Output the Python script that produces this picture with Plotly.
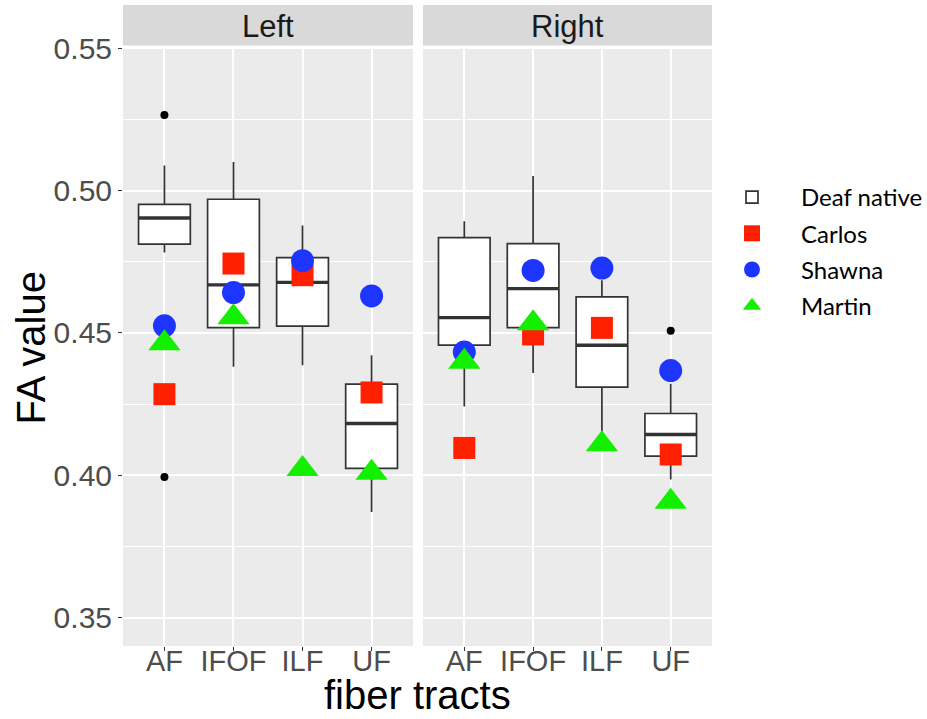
import plotly.graph_objects as go

# ---- data -------------------------------------------------------------
tracts = ["AF", "IFOF", "ILF", "UF"]
sides = ["Left", "Right"]

# box statistics for the Deaf native group, per side (AF, IFOF, ILF, UF)
box_lower = {"Left": [0.4783, 0.4381, 0.4387, 0.3871], "Right": [0.4242, 0.4359, 0.4141, 0.3985]}
box_q1 = {"Left": [0.4812, 0.4519, 0.4524, 0.4024], "Right": [0.4457, 0.4519, 0.4310, 0.4067]}
box_median = {"Left": [0.4904, 0.4669, 0.4678, 0.4182], "Right": [0.4554, 0.4656, 0.4457, 0.4143]}
box_q3 = {"Left": [0.4952, 0.4970, 0.4765, 0.4320], "Right": [0.4835, 0.4814, 0.4627, 0.4217]}
box_upper = {"Left": [0.5089, 0.5101, 0.4878, 0.4422], "Right": [0.4893, 0.5052, 0.4685, 0.4322]}

# outliers of the group: (tract, value)
outliers = {"Left": [("AF", 0.5266), ("AF", 0.3994)], "Right": [("UF", 0.4508)]}

# individual subjects
carlos = {"Left": [0.4285, 0.4744, 0.4703, 0.4291], "Right": [0.4096, 0.4495, 0.4518, 0.4073]}
shawna = {"Left": [0.4525, 0.4642, 0.4754, 0.4630], "Right": [0.4433, 0.4720, 0.4728, 0.4368]}
martin = {"Left": [0.4464, 0.4555, 0.4022, 0.4009], "Right": [0.4399, 0.4534, 0.4109, 0.3907]}

subjects = [
    ("Carlos", carlos, "square", "#FF2000", 22),
    ("Shawna", shawna, "circle", "#1E34FF", 23),
    ("Martin", martin, "triangle-up", "#12F000", 28),
]

# ---- layout geometry --------------------------------------------------
W, H = 927, 719
BOX_W = 0.75
pos = list(range(1, len(tracts) + 1))
panel_x = {"Left": (123 / W, 413 / W), "Right": (423 / W, 712 / W)}
panel_y = (1 - 646 / H, 1 - 47 / H)
strip_y = (1 - 45.5 / H, 1 - 5 / H)

axis_ids = {"Left": ("x", "y"), "Right": ("x2", "y2")}
LINE = "#333333"

fig = go.Figure()

# boxes
for i, side in enumerate(sides):
    xa, ya = axis_ids[side]
    fig.add_trace(go.Box(
        x=pos, q1=box_q1[side], median=box_median[side], q3=box_q3[side],
        lowerfence=box_lower[side], upperfence=box_upper[side],
        width=BOX_W, whiskerwidth=0, boxpoints=False,
        fillcolor="white", line=dict(color=LINE, width=1.7),
        name="Deaf native", legendgroup="deaf", showlegend=(i == 0),
        xaxis=xa, yaxis=ya, hoverinfo="skip",
    ))

# outliers and thick median bars
for side in sides:
    xa, ya = axis_ids[side]
    ox = [pos[tracts.index(t)] for t, _ in outliers[side]]
    oy = [v for _, v in outliers[side]]
    fig.add_trace(go.Scatter(
        x=ox, y=oy, mode="markers", marker=dict(color="black", size=8),
        showlegend=False, xaxis=xa, yaxis=ya, hoverinfo="skip",
    ))
    mx, my = [], []
    for p, m in zip(pos, box_median[side]):
        mx += [p - BOX_W / 2, p + BOX_W / 2, None]
        my += [m, m, None]
    fig.add_trace(go.Scatter(
        x=mx, y=my, mode="lines", line=dict(color=LINE, width=3.4),
        showlegend=False, xaxis=xa, yaxis=ya, hoverinfo="skip",
    ))

# subjects
for name, vals, symbol, color, size in subjects:
    for i, side in enumerate(sides):
        xa, ya = axis_ids[side]
        fig.add_trace(go.Scatter(
            x=pos, y=vals[side], mode="markers", name=name,
            marker=dict(symbol=symbol, color=color, size=size, line=dict(width=0)),
            legendgroup=name, showlegend=(i == 0), xaxis=xa, yaxis=ya,
        ))

tick_font = dict(family="Liberation Sans, Arial, sans-serif", size=30, color="#4D4D4D")
x_tick_font = dict(tick_font, size=29)
common_x = dict(
    range=[0.4, 4.6], tickmode="array", tickvals=pos, ticktext=tracts,
    showgrid=True, gridcolor="white", gridwidth=1.6, zeroline=False,
    ticks="outside", ticklen=4, tickwidth=1.1, tickcolor=LINE,
    tickfont=x_tick_font, ticklabelstandoff=-15, showline=False, fixedrange=True,
)
common_y = dict(
    range=[0.34, 0.5505], tickmode="array",
    tickvals=[0.35, 0.40, 0.45, 0.50, 0.55],
    ticktext=["0.35", "0.40", "0.45", "0.50", "0.55"],
    showgrid=True, gridcolor="white", gridwidth=1.6, zeroline=False,
    minor=dict(tickvals=[0.375, 0.425, 0.475, 0.525], showgrid=True,
               gridcolor="white", gridwidth=0.8, ticks=""),
    showline=False, fixedrange=True, domain=list(panel_y),
)

fig.update_layout(
    width=W, height=H,
    margin=dict(l=0, r=0, t=0, b=0, autoexpand=False),
    paper_bgcolor="white", plot_bgcolor="#EBEBEB",
    xaxis=dict(common_x, domain=list(panel_x["Left"]), anchor="y"),
    xaxis2=dict(common_x, domain=list(panel_x["Right"]), anchor="y2"),
    yaxis=dict(common_y, anchor="x", ticks="outside", ticklen=4, tickwidth=1.1,
               tickcolor=LINE, tickfont=tick_font),
    yaxis2=dict(common_y, anchor="x2", showticklabels=False, ticks=""),
    legend=dict(
        x=703 / W, xanchor="left", y=1 - 175 / H, yanchor="top",
        font=dict(family="Lato, sans-serif", size=24, color="black"),
        itemwidth=88, tracegroupgap=2, bgcolor="rgba(0,0,0,0)",
    ),
    showlegend=True,
)

# facet strips
for side in sides:
    x0, x1 = panel_x[side]
    fig.add_shape(type="rect", xref="paper", yref="paper",
                  x0=x0, x1=x1, y0=strip_y[0], y1=strip_y[1],
                  fillcolor="#D9D9D9", line=dict(width=0), layer="below")
    fig.add_annotation(text=side, xref="paper", yref="paper",
                       x=(x0 + x1) / 2, y=(strip_y[0] + strip_y[1]) / 2 - 1.5 / H,
                       showarrow=False, xanchor="center", yanchor="middle",
                       font=dict(family="Liberation Sans, Arial, sans-serif", size=31, color="#1A1A1A"))

# axis titles
title_font = dict(family="Liberation Sans, Arial, sans-serif", size=40, color="black")
fig.add_annotation(text="fiber tracts", xref="paper", yref="paper",
                   x=(panel_x["Left"][0] + panel_x["Right"][1]) / 2, y=0,
                   showarrow=False, xanchor="center", yanchor="bottom", font=title_font)
fig.add_annotation(text="FA value", xref="paper", yref="paper",
                   x=30 / W, y=1 - 348.5 / H, textangle=-90,
                   showarrow=False, xanchor="center", yanchor="middle", font=title_font)

fig.write_html("out.html")
